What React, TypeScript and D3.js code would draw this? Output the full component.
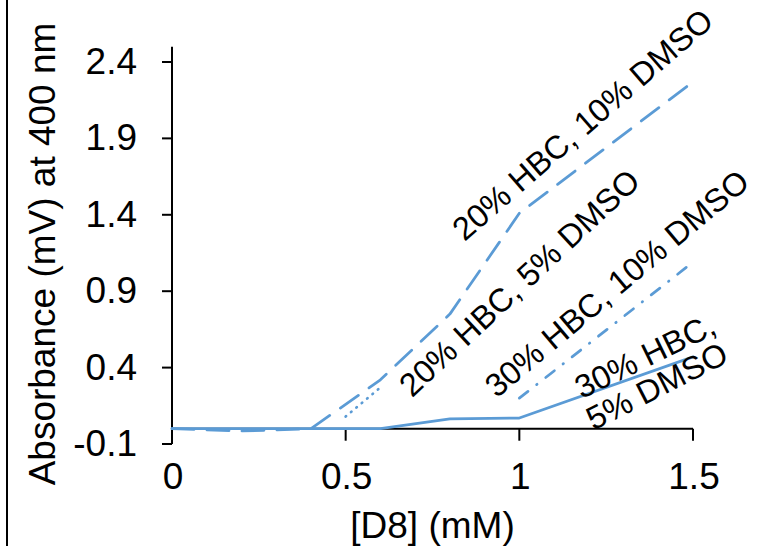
import React from "react";
import * as d3 from "d3";

const W = 757;
const H = 546;

// x values (mM)
const xDashed = [0, 0.2, 0.4, 0.6, 0.8, 1.0, 1.5];
const yDashed = [0, -0.015, 0, 0.32, 0.75, 1.41, 2.27]; // 20% HBC, 10% DMSO

const xDotted = [0.5, 0.6];
const yDotted = [0.08, 0.27]; // 20% HBC, 5% DMSO

const xDashDot = [1.0, 1.5];
const yDashDot = [0.2, 1.09]; // 30% HBC, 10% DMSO

const xSolid = [0, 0.2, 0.4, 0.6, 0.8, 1.0, 1.5];
const ySolid = [0, 0, 0, 0, 0.065, 0.07, 0.47]; // 30% HBC, 5% DMSO

const yTicks = [-0.1, 0.4, 0.9, 1.4, 1.9, 2.4];
const xTicks = [0, 0.5, 1, 1.5];

const FONT = "'Liberation Sans', Arial, sans-serif";
const BLUE = "#5B9BD5";

export default function App() {
  const x = d3.scaleLinear().domain([0, 1.5]).range([172, 693]);
  const y = d3.scaleLinear().domain([-0.1, 2.5]).range([444, 46.7]);

  const line = d3
    .line<[number, number]>()
    .x((d) => x(d[0]))
    .y((d) => y(d[1]));

  const zip = (a: number[], b: number[]) => a.map((v, i) => [v, b[i]] as [number, number]);

  const series = [
    { d: zip(xSolid, ySolid), dash: undefined as string | undefined },
    { d: zip(xDotted, yDotted), dash: "0.5 6.5" },
    { d: zip(xDashDot, yDashDot), dash: "11 11 0.5 11" },
    { d: zip(xDashed, yDashed), dash: "22 13" },
  ];

  const labels = [
    { t: "20% HBC, 10% DMSO", x: 590, y: 133, r: -41 },
    { t: "20% HBC, 5% DMSO", x: 527, y: 291, r: -43 },
    { t: "30% HBC, 10% DMSO", x: 624, y: 292, r: -40 },
    { t: "30% HBC,", x: 650, y: 366, r: -26 },
    { t: "5% DMSO", x: 662, y: 396, r: -27 },
  ];

  return (
    <svg
      width={W}
      height={H}
      style={{ position: "absolute", left: 0, top: 0, background: "#fff" }}
    >
      <rect x={0} y={0} width={W} height={H} fill="#fff" />
      <line x1={7} x2={7} y1={0} y2={H} stroke="#000" strokeWidth={2} />

      {/* y axis */}
      <line x1={x(0)} x2={x(0)} y1={y(2.5)} y2={y(-0.1)} stroke="#000" strokeWidth={2} />
      {yTicks.map((t) => (
        <g key={t}>
          <line x1={x(0) - 10} x2={x(0)} y1={y(t)} y2={y(t)} stroke="#000" strokeWidth={2} />
          <text
            x={137}
            y={y(t) + 12}
            textAnchor="end"
            fontFamily={FONT}
            fontSize={37}
            fill="#000"
          >
            {t.toFixed(1)}
          </text>
        </g>
      ))}

      {/* x axis */}
      <line x1={x(0)} x2={x(1.5)} y1={y(0)} y2={y(0)} stroke="#000" strokeWidth={2} />
      {xTicks.map((t) => (
        <g key={t}>
          <line x1={x(t)} x2={x(t)} y1={y(0)} y2={y(0) + 12} stroke="#000" strokeWidth={2} />
          <text
            x={x(t) + 1}
            y={489}
            textAnchor="middle"
            fontFamily={FONT}
            fontSize={37}
            fill="#000"
          >
            {String(t)}
          </text>
        </g>
      ))}

      <text
        x={x(0.75)}
        y={538}
        textAnchor="middle"
        fontFamily={FONT}
        fontSize={37}
        fill="#000"
      >
        [D8] (mM)
      </text>
      <text
        transform={`translate(55,254) rotate(-90)`}
        textAnchor="middle"
        fontFamily={FONT}
        fontSize={37}
        fill="#000"
      >
        Absorbance (mV) at 400 nm
      </text>

      {series.map((s, i) => (
        <path
          key={i}
          d={line(s.d) || ""}
          fill="none"
          stroke={BLUE}
          strokeWidth={2.75}
          strokeDasharray={s.dash}
          strokeLinecap="round"
          strokeLinejoin="round"
        />
      ))}

      {labels.map((l, i) => (
        <text
          key={i}
          transform={`translate(${l.x},${l.y}) rotate(${l.r})`}
          textAnchor="middle"
          fontFamily={FONT}
          fontSize={32.5}
          fill="#000"
        >
          {l.t}
        </text>
      ))}
    </svg>
  );
}
